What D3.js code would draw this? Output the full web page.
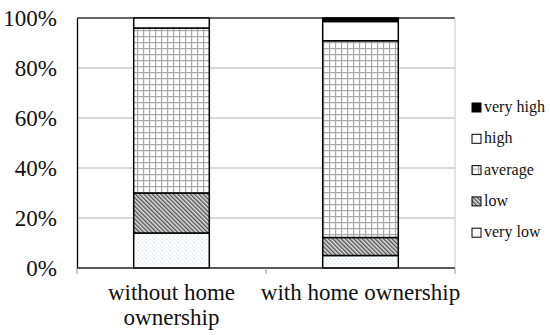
<!DOCTYPE html>
<html>
<head>
<meta charset="utf-8">
<script src="https://cdn.jsdelivr.net/npm/d3@7"></script>
<style>
  body { margin: 0; background: #fff; }
  svg { display: block; }
  svg text { font-family: "Liberation Serif", "Times New Roman", serif; }
</style>
</head>
<body>
<div id="chart"></div>
<script>
// stacked 100% bars, bottom to top
const groups = ['without home ownership', 'with home ownership'];
const groupLines = [['without home', 'ownership'], ['with home ownership']];
const levels = ['very low', 'low', 'average', 'high', 'very high'];
const veryLow = [14, 5];
const low = [16, 7.2];
const average = [66, 78.7];
const high = [4, 7.7];
const veryHigh = [0, 1.4];
const yTicks = [0, 20, 40, 60, 80, 100];

const W = 550, H = 335;
const m = { top: 18, right: 95, bottom: 67, left: 77 };
const w = W - m.left - m.right;
const h = H - m.top - m.bottom;
const SERIF = '"Liberation Serif", "Times New Roman", serif';

const svg = d3.select('#chart').append('svg')
    .attr('width', W).attr('height', H);

// patterns
const defs = svg.append('defs');
const pDots = defs.append('pattern').attr('id', 'p-dots')
    .attr('patternUnits', 'userSpaceOnUse').attr('width', 4).attr('height', 4);
pDots.append('rect').attr('width', 4).attr('height', 4).attr('fill', '#fff');
pDots.append('rect').attr('x', 1).attr('y', 1).attr('width', 1).attr('height', 1).attr('fill', '#cfdde3');
pDots.append('rect').attr('x', 3).attr('y', 3).attr('width', 1).attr('height', 1).attr('fill', '#dde6ea');

const pHatch = defs.append('pattern').attr('id', 'p-hatch')
    .attr('patternUnits', 'userSpaceOnUse').attr('width', 3).attr('height', 3)
    .attr('patternTransform', 'rotate(-45)');
pHatch.append('rect').attr('width', 3).attr('height', 3).attr('fill', '#ddd');
pHatch.append('rect').attr('width', 1.4).attr('height', 3).attr('fill', '#555');

const pGrid = defs.append('pattern').attr('id', 'p-grid')
    .attr('patternUnits', 'userSpaceOnUse').attr('width', 6).attr('height', 6);
pGrid.append('rect').attr('width', 6).attr('height', 6).attr('fill', '#fff');
pGrid.append('rect').attr('width', 1.2).attr('height', 6).attr('fill', '#a8a8a8');
pGrid.append('rect').attr('width', 6).attr('height', 1.2).attr('fill', '#a8a8a8');

const fills = {
    'very low': 'url(#p-dots)',
    'low': 'url(#p-hatch)',
    'average': 'url(#p-grid)',
    'high': '#fff',
    'very high': '#000'
};

const g = svg.append('g').attr('transform', `translate(${m.left},${m.top})`);

const x = d3.scaleBand().domain(groups).range([0, w]).paddingInner(0).paddingOuter(0);
const y = d3.scaleLinear().domain([0, 100]).range([h, 0]);

// gridlines
g.selectAll('.grid').data(yTicks.filter(d => d > 0)).enter().append('line')
    .attr('x1', 0).attr('x2', w)
    .attr('y1', d => y(d)).attr('y2', d => y(d))
    .attr('stroke', d => d === 100 ? '#333' : '#b0b0b0')
    .attr('stroke-width', d => d === 100 ? 1.3 : 1);

// right border
g.append('line').attr('x1', w).attr('x2', w).attr('y1', 0).attr('y2', h)
    .attr('stroke', '#c8c8c8');

// stacked data
const rows = groups.map((grp, i) => ({
    group: grp,
    'very low': veryLow[i], 'low': low[i], 'average': average[i],
    'high': high[i], 'very high': veryHigh[i]
}));
const series = d3.stack().keys(levels)(rows);

const barW = x.bandwidth() * 0.4;
series.forEach(s => {
    g.selectAll(null).data(s.filter(d => d[1] - d[0] > 0)).enter().append('rect')
        .attr('x', d => x(d.data.group) + (x.bandwidth() - barW) / 2)
        .attr('y', d => y(d[1]))
        .attr('width', barW)
        .attr('height', d => y(d[0]) - y(d[1]))
        .attr('fill', fills[s.key])
        .attr('stroke', '#000')
        .attr('stroke-width', 1.5);
});

// y axis
const yAxis = g.append('g').call(d3.axisLeft(y).tickValues(yTicks).tickSize(0).tickPadding(20)
    .tickFormat(d => d + '%'));
yAxis.attr('font-family', SERIF);
yAxis.select('.domain').attr('stroke', '#000').attr('stroke-width', 1.3);
yAxis.selectAll('text').attr('font-size', 23).attr('fill', '#111')
    .attr('font-family', SERIF);

// x axis line and ticks
g.append('line').attr('x1', 0).attr('x2', w).attr('y1', h).attr('y2', h)
    .attr('stroke', '#222').attr('stroke-width', 1.3);
const xEdges = [0].concat(groups.map(d => x(d) + x.bandwidth()));
g.selectAll('.xt').data(xEdges).enter().append('line')
    .attr('x1', d => d).attr('x2', d => d)
    .attr('y1', h).attr('y2', h + 6)
    .attr('stroke', '#999');

// category labels
groups.forEach((grp, i) => {
    const t = g.append('text')
        .attr('x', x(grp) + x.bandwidth() / 2)
        .attr('y', h + 32)
        .attr('text-anchor', 'middle')
        .attr('font-family', SERIF)
        .attr('font-size', 23)
        .attr('fill', '#111');
    groupLines[i].forEach((line, j) => {
        t.append('tspan').attr('x', x(grp) + x.bandwidth() / 2)
            .attr('dy', j === 0 ? 0 : 25).text(line);
    });
});

// legend, top item = very high
const legendItems = levels.slice().reverse();
const leg = svg.append('g').attr('transform', 'translate(472,112)');
legendItems.forEach((k, i) => {
    const row = leg.append('g').attr('transform', `translate(0,${i * 31.3})`);
    row.append('rect').attr('x', 0).attr('y', -9).attr('width', 9).attr('height', 9)
        .attr('fill', fills[k]).attr('stroke', '#000').attr('stroke-width', 1);
    row.append('text').attr('x', 12).attr('y', 0)
        .attr('font-family', SERIF)
        .attr('font-size', 16).attr('fill', '#111').text(k);
});
</script>
</body>
</html>
